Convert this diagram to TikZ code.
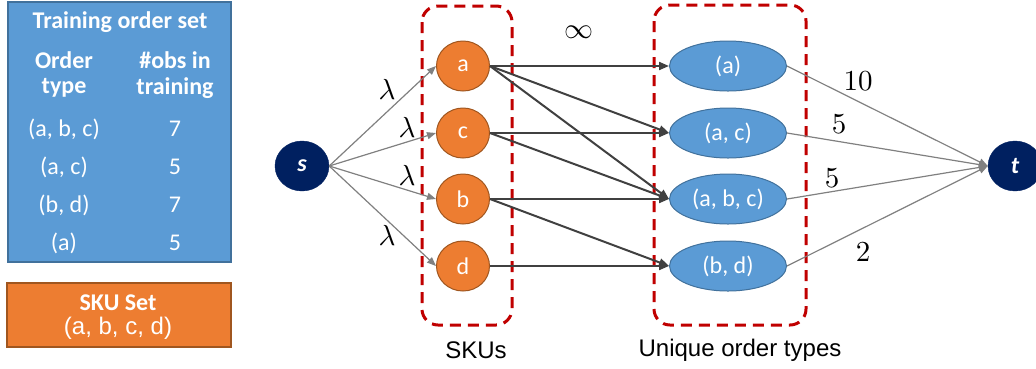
\documentclass[tikz,border=0pt]{standalone}
\usepackage{fontspec}
\setmainfont{Carlito}
\newfontfamily\arialfont{Liberation Sans}
\usetikzlibrary{arrows.meta,shapes.geometric}

\definecolor{boxblue}{HTML}{5B9BD5}
\definecolor{boxblueline}{HTML}{41719C}
\definecolor{skuorange}{HTML}{ED7D31}
\definecolor{skuline}{HTML}{A0561F}
\definecolor{navy}{HTML}{002060}
\definecolor{groupred}{HTML}{C00000}
\definecolor{thinedge}{HTML}{808080}
\definecolor{thickedge}{HTML}{404040}

% large math labels, scaled up from the 10pt math fonts
\newcommand\capmath[1]{\scalebox{2.9}{$#1$}}

\tikzset{
  big/.style={font=\fontsize{24}{28}\selectfont},
  whitetxt/.style={big, text=white, inner sep=0pt},
  headtxt/.style={whitetxt, font=\fontsize{24}{28}\selectfont\bfseries},
  mathlbl/.style={inner sep=0pt},
  endnode/.style={ellipse, fill=navy, draw=navy, minimum width=54pt, minimum height=50pt,
    inner sep=0pt, text=white, font=\fontsize{24}{28}\selectfont\bfseries\itshape},
  skunode/.style={ellipse, fill=skuorange, draw=skuline, line width=1pt,
    minimum width=53pt, minimum height=50pt, inner sep=0pt, text=white, big},
  ordernode/.style={ellipse, fill=boxblue, draw=boxblueline, line width=1pt,
    minimum width=117pt, minimum height=50pt, inner sep=0pt, text=white, big},
  group/.style={draw=groupred, line width=3pt, dash pattern=on 11pt off 7pt, rounded corners=16pt},
  srcedge/.style={draw=thinedge, line width=1.2pt, -{Triangle[length=9pt,width=7pt]}},
  midedge/.style={draw=thickedge, line width=2pt, -{Triangle[length=10pt,width=8pt]}},
  sinkedge/.style={draw=thinedge, line width=1.2pt, -{Triangle[length=9pt,width=7pt]}},
  caption/.style={inner sep=0pt, font=\arialfont\fontsize{24}{28}\selectfont},
}

\begin{document}
\begin{tikzpicture}[x=1pt, y=-1pt]
  \useasboundingbox (0,0) rectangle (1036,368);

  % training order set table
  \draw[fill=boxblue, draw=boxblueline, line width=1.5pt] (8,2) rectangle (231,262);
  \node[headtxt] (title) at (120,22) {Training order set};
  \node[headtxt] (hdrA1) at (64,60) {Order};
  \node[headtxt] (hdrA2) at (64,88) {type};
  \node[headtxt] (hdrB1) at (175,60) {\#obs in};
  \node[headtxt] (hdrB2) at (175,88) {training};
  \node[whitetxt] (r1a) at (64,129) {(a, b, c)};
  \node[whitetxt] (r1b) at (175,129) {7};
  \node[whitetxt] (r2a) at (64,167) {(a, c)};
  \node[whitetxt] (r2b) at (175,167) {5};
  \node[whitetxt] (r3a) at (64,205) {(b, d)};
  \node[whitetxt] (r3b) at (175,205) {7};
  \node[whitetxt] (r4a) at (64,243) {(a)};
  \node[whitetxt] (r4b) at (175,243) {5};

  % SKU set box
  \draw[fill=skuorange, draw=skuline, line width=1.5pt] (7,283) rectangle (231,347);
  \node[headtxt, anchor=base] (skutitle) at (118,310.5) {SKU Set};
  \node[whitetxt, anchor=base, font=\arialfont\fontsize{24}{28}\selectfont] (skulist) at (118,334) {(a, b, c, d)};

  % group frames
  \draw[group] (422,6) rectangle (512,325);
  \draw[group] (654,5) rectangle (806,325);

  % network nodes
  \node[endnode] (s) at (302,166) {s};
  \node[endnode] (t) at (1015,166) {t};

  \node[skunode] (a) at (463,66) {a};
  \node[skunode] (c) at (463,133) {c};
  \node[skunode] (b) at (463,199) {b};
  \node[skunode] (d) at (463,266) {d};

  \node[ordernode] (oa)   at (728,66)  {(a)};
  \node[ordernode] (oac)  at (728,133) {(a, c)};
  \node[ordernode] (oabc) at (728,199) {(a, b, c)};
  \node[ordernode] (obd)  at (728,266) {(b, d)};

  % source edges
  \foreach \k in {a,c,b,d} \draw[srcedge] (s.east) -- (\k.west);

  % SKU to order type edges
  \draw[midedge] (a.east) -- (oa.west);
  \draw[midedge] (a.east) -- (oac.west);
  \draw[midedge] (a.east) -- (oabc.west);
  \draw[midedge] (c.east) -- (oac.west);
  \draw[midedge] (c.east) -- (oabc.west);
  \draw[midedge] (b.east) -- (oabc.west);
  \draw[midedge] (b.east) -- (obd.west);
  \draw[midedge] (d.east) -- (obd.west);

  % sink edges
  \foreach \k in {oa,oac,oabc,obd} \draw[sinkedge] (\k.east) -- (t.west);

  % capacities
  \node[mathlbl] (l1) at (387,89)  {\capmath{\lambda}};
  \node[mathlbl] (l2) at (407,127) {\capmath{\lambda}};
  \node[mathlbl] (l3) at (407,175) {\capmath{\lambda}};
  \node[mathlbl] (l4) at (387,235) {\capmath{\lambda}};
  \node[mathlbl] (inf) at (579,32) {\capmath{\infty}};
  \node[mathlbl] (w1) at (858,81)  {\capmath{10}};
  \node[mathlbl] (w2) at (839,124) {\capmath{5}};
  \node[mathlbl] (w3) at (832,178) {\capmath{5}};
  \node[mathlbl] (w4) at (863,252) {\capmath{2}};

  % captions
  \node[caption] (skus) at (476,350) {SKUs};
  \node[caption] (uniq) at (740,350) {Unique order types};
\end{tikzpicture}
\end{document}
